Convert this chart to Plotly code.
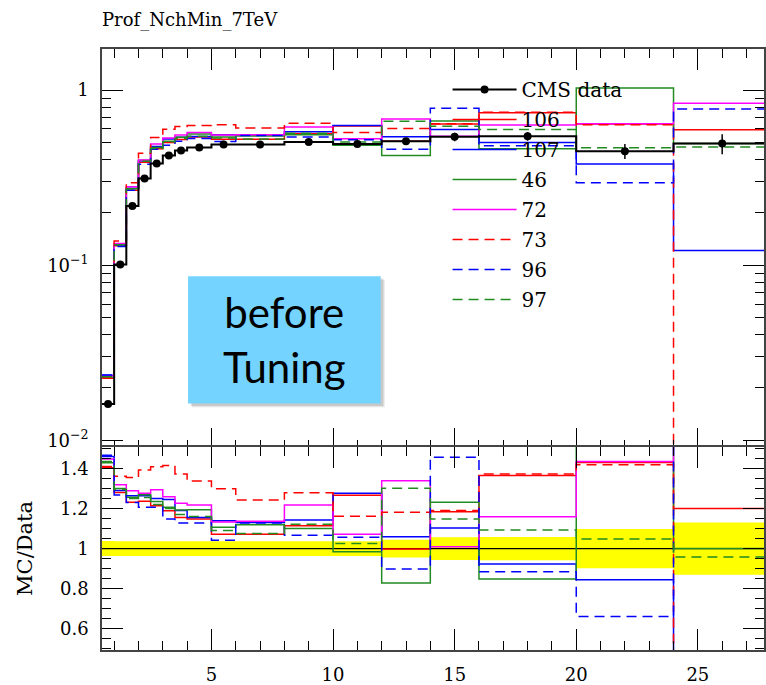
import plotly.graph_objects as go

# ---------------- data ----------------
bin_edges = [0.5, 1, 1.5, 2, 2.5, 3, 3.5, 4, 5, 6, 8, 10, 12, 14, 16, 20, 24, 28]

cms_data = [0.0161, 0.101, 0.218, 0.313, 0.381, 0.423, 0.452, 0.470, 0.489,
            0.489, 0.506, 0.493, 0.511, 0.541, 0.545, 0.448, 0.495]
cms_err = [0.0006, 0.0037, 0.0081, 0.0116, 0.0141, 0.0157, 0.0167, 0.0174, 0.0181,
           0.0181, 0.0187, 0.0182, 0.0225, 0.0308, 0.0316, 0.0439, 0.0644]

mc_106 = [0.0226, 0.1293, 0.2684, 0.3869, 0.4625, 0.5029, 0.5221, 0.5396, 0.5242,
          0.5242, 0.5637, 0.6241, 0.5100, 0.6405, 0.7434, 0.6406, 0.594]
mc_107 = [0.0235, 0.1303, 0.2756, 0.3956, 0.4763, 0.5266, 0.5379, 0.5429, 0.5570,
          0.5526, 0.5779, 0.6291, 0.5411, 0.5967, 0.5030, 0.3781, 0.1213]
mc_46 = [0.0230, 0.1313, 0.2738, 0.3972, 0.4705, 0.5101, 0.5388, 0.5612, 0.5408,
         0.5472, 0.5566, 0.4851, 0.4231, 0.6660, 0.4622, 1.027, 0.495]
mc_72 = [0.0233, 0.1332, 0.2810, 0.3994, 0.4930, 0.5326, 0.5542, 0.5725, 0.5540,
         0.5555, 0.6163, 0.5285, 0.6842, 0.5459, 0.6317, 0.6424, 0.843]
mc_73 = [0.0227, 0.1374, 0.2954, 0.4357, 0.5368, 0.5981, 0.6201, 0.6284, 0.6347,
         0.6073, 0.6467, 0.5724, 0.6035, 0.6438, 0.7477, 0.6353, 0.0]
mc_96 = [0.0236, 0.1280, 0.2681, 0.3775, 0.4595, 0.4852, 0.5099, 0.5302, 0.5095,
         0.5516, 0.5399, 0.5206, 0.4589, 0.7877, 0.4818, 0.2961, 0.78]
mc_97 = [0.0231, 0.1308, 0.2725, 0.3928, 0.4648, 0.5076, 0.5288, 0.5452, 0.5330,
         0.5257, 0.5677, 0.5058, 0.6648, 0.6211, 0.5957, 0.4695, 0.4742]

series_names = ["106", "107", "46", "72", "73", "96", "97"]
series_values = [mc_106, mc_107, mc_46, mc_72, mc_73, mc_96, mc_97]
series_colors = ["#ff0000", "#0000ff", "#228b22", "#ff00ff", "#ff0000", "#0000ff", "#228b22"]
series_dash = ["solid", "solid", "solid", "solid", "10px,6px", "10px,6px", "10px,6px"]

title_text = "Prof_NchMin_7TeV"
FONT = "DejaVu Serif"

# ---------------- helpers ----------------
def step(vals):
    return list(vals) + [vals[-1]]

centers = [(a + b) / 2 for a, b in zip(bin_edges[:-1], bin_edges[1:])]

fig = go.Figure()

# ---------- ratio panel: data uncertainty band ----------
band_lo = [1 - e / d for e, d in zip(cms_err, cms_data)]
band_hi = [1 + e / d for e, d in zip(cms_err, cms_data)]
fig.add_trace(go.Scatter(x=bin_edges, y=step(band_lo), mode="lines", line=dict(width=0, shape="hv"),
                         showlegend=False, hoverinfo="skip", xaxis="x2", yaxis="y2"))
fig.add_trace(go.Scatter(x=bin_edges, y=step(band_hi), mode="lines", line=dict(width=0, shape="hv"),
                         fill="tonexty", fillcolor="#ffff00",
                         showlegend=False, hoverinfo="skip", xaxis="x2", yaxis="y2"))
fig.add_trace(go.Scatter(x=[bin_edges[0], bin_edges[-1]], y=[1, 1], mode="lines",
                         line=dict(color="black", width=1.2), showlegend=False,
                         xaxis="x2", yaxis="y2"))

# legend entry for data (line + marker)
fig.add_trace(go.Scatter(x=[None], y=[None], mode="lines+markers", name="CMS data",
                         line=dict(color="black", width=2), marker=dict(color="black", size=8),
                         legendgroup="data", xaxis="x", yaxis="y"))

# ---------- MC curves ----------
for name, vals, col, dsh in zip(series_names, series_values, series_colors, series_dash):
    main_vals = [max(v, 1e-6) for v in vals]
    fig.add_trace(go.Scatter(x=bin_edges, y=step(main_vals), mode="lines", name=name,
                             line=dict(color=col, width=1.5, dash=dsh, shape="hv"),
                             legendgroup=name, xaxis="x", yaxis="y"))
    ratio = [v / d for v, d in zip(vals, cms_data)]
    fig.add_trace(go.Scatter(x=bin_edges, y=step(ratio), mode="lines", showlegend=False,
                             line=dict(color=col, width=1.5, dash=dsh, shape="hv"),
                             legendgroup=name, xaxis="x2", yaxis="y2"))

# ---------- data ----------
fig.add_trace(go.Scatter(x=bin_edges, y=step(cms_data), mode="lines", showlegend=False,
                         line=dict(color="black", width=2, shape="hv"), xaxis="x", yaxis="y"))
fig.add_trace(go.Scatter(x=centers, y=cms_data, mode="markers", showlegend=False,
                         marker=dict(color="black", size=8),
                         error_y=dict(type="data", array=cms_err, color="black", thickness=1.5, width=0),
                         xaxis="x", yaxis="y"))

# ---------- "before Tuning" box ----------
fig.add_shape(type="rect", xref="paper", yref="paper", x0=0.136, x1=0.427, y0=0.404, y1=0.616,
              fillcolor="rgba(0,0,0,0.10)", line=dict(width=0), layer="above")
fig.add_shape(type="rect", xref="paper", yref="paper", x0=0.134, x1=0.425, y0=0.406, y1=0.618,
              fillcolor="rgba(0,0,0,0.12)", line=dict(width=0), layer="above")
fig.add_shape(type="rect", xref="paper", yref="paper", x0=0.130, x1=0.421, y0=0.410, y1=0.622,
              fillcolor="#74d3ff", line=dict(width=0), layer="above")
fig.add_annotation(xref="paper", yref="paper", x=0.2755, y=0.516, text="before<br>Tuning",
                   showarrow=False, font=dict(family="Lato", size=42, color="black"),
                   xanchor="center", yanchor="middle")

axis_common = dict(ticks="inside", showline=True, linecolor="#444", linewidth=1.5,
                   tickcolor="black", mirror="ticks", showgrid=False, zeroline=False)

minor_log = [k * 10 ** p for p in (-3, -2, -1) for k in range(2, 10)] + [2, 3]

split = 0.3355
fig.update_layout(
    width=766, height=685,
    margin=dict(l=102, r=0, t=49, b=34),
    paper_bgcolor="white", plot_bgcolor="white",
    font=dict(family=FONT, size=18, color="black"),
    title=dict(text=title_text, x=0, xref="paper", xanchor="left", y=0.971, yref="container",
               yanchor="middle", font=dict(family=FONT, size=18, color="black")),
    xaxis=dict(range=[0.5, 27.72], anchor="y", matches="x2", showticklabels=False,
               tick0=0, dtick=5, ticklen=21,
               minor=dict(ticks="inside", dtick=1, tick0=0, ticklen=9, tickcolor="black"),
               **axis_common),
    yaxis=dict(type="log", range=[-2.046, 0.235], domain=[split, 1], anchor="x",
               tickmode="array", tickvals=[0.01, 0.1, 1],
               ticktext=["10<sup>−2</sup>", "10<sup>−1</sup>", "1"], ticklen=21,
               ticklabelstandoff=8,
               minor=dict(ticks="inside", tickmode="array", tickvals=minor_log, ticklen=9,
                          tickcolor="black"),
               **axis_common),
    xaxis2=dict(range=[0.5, 27.72], anchor="y2", tick0=0, dtick=5, ticklen=21,
                ticklabelstandoff=8,
                minor=dict(ticks="inside", dtick=1, tick0=0, ticklen=9, tickcolor="black"),
                **axis_common),
    yaxis2=dict(range=[0.494, 1.5075], domain=[0, split + 1.5 / 602], anchor="x2",
                tickmode="array", tickvals=[0.6, 0.8, 1.0, 1.2, 1.4],
                ticktext=["0.6", "0.8", "1", "1.2", "1.4"], ticklen=21, ticklabelstandoff=8,
                minor=dict(ticks="inside", dtick=0.05, tick0=0, ticklen=9, tickcolor="black"),
                title=dict(text="MC/Data", font=dict(family=FONT, size=21), standoff=22),
                **axis_common),
    legend=dict(x=0.522, y=0.965, xanchor="left", yanchor="top", bgcolor="rgba(0,0,0,0)",
                font=dict(family=FONT, size=20), itemwidth=64, tracegroupgap=1,
                traceorder="grouped"),
    showlegend=True,
)

fig.write_html("out.html")
